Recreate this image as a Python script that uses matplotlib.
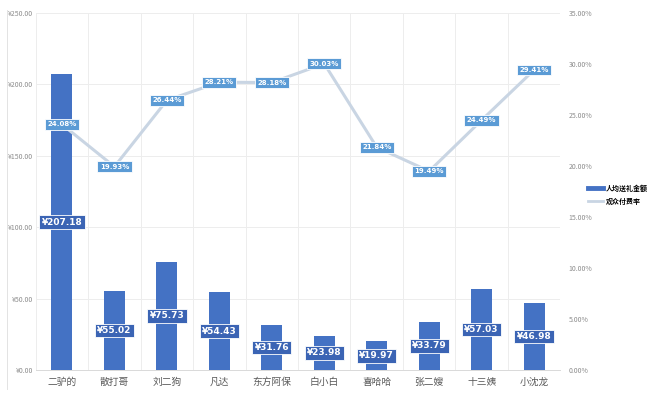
import matplotlib
matplotlib.use("Agg")
import matplotlib.pyplot as plt
from matplotlib.lines import Line2D
from matplotlib.ticker import FuncFormatter

plt.rcParams['font.family'] = ['Noto Sans CJK SC', 'DejaVu Sans']

names = ['二驴的', '散打哥', '刘二狗', '凡达', '东方阿保', '白小白', '喜哈哈', '张二嫂', '十三姨', '小沈龙']
gift = [207.18, 55.02, 75.73, 54.43, 31.76, 23.98, 19.97, 33.79, 57.03, 46.98]
pay_rate = [24.08, 19.93, 26.44, 28.21, 28.18, 30.03, 21.84, 19.49, 24.49, 29.41]

bar_col = '#4472C4'
line_col = '#C9D5E3'
grid_col = '#EDEDED'
tick_col = '#8C8C8C'

fig = plt.figure(figsize=(6.5, 3.93), dpi=100)
ax = fig.add_axes([0.055, 0.0585, 0.807, 0.9085])
ax2 = ax.twinx()

x = range(len(names))
ax.bar(x, gift, width=0.4, color=bar_col, zorder=2)
for i, v in enumerate(gift):
    ax.text(i, v / 2, '¥{:.2f}'.format(v), ha='center', va='center', color='white',
            fontsize=6.5, fontweight='bold', family=['DejaVu Sans'], zorder=5,
            bbox=dict(boxstyle='square,pad=0.25', fc='#3B64B4', ec='white', lw=0.6))

ax.set_xlim(-0.5, len(names) - 0.5)
ax.set_ylim(0, 250)
ax.set_yticks(range(0, 251, 50))
ax.yaxis.set_major_formatter(FuncFormatter(lambda v, p: '¥{:.2f}'.format(v)))
ax.set_xticks(list(x))
ax.set_xticklabels(names, fontsize=7, color='#595959')
ax.tick_params(axis='y', labelsize=5, colors=tick_col, length=0, pad=2)
ax.tick_params(axis='x', length=0, pad=5)
ax.set_xticks([i + 0.5 for i in range(-1, len(names))], minor=True)
ax.tick_params(axis='x', which='minor', length=0)
ax.grid(True, axis='y', color=grid_col, lw=0.7, zorder=0)
ax.grid(True, axis='x', which='minor', color=grid_col, lw=0.7, zorder=0)
for s in ['top', 'left', 'right']:
    ax.spines[s].set_visible(False)
ax.spines['bottom'].set_color('#D9D9D9')
ax.spines['bottom'].set_linewidth(0.7)

ax2.plot(list(x), pay_rate, color=line_col, lw=2.2, zorder=3)
for i, v in enumerate(pay_rate):
    ax2.text(i, v, '{:.2f}%'.format(v), ha='center', va='center', color='white',
             fontsize=5, fontweight='bold', family=['DejaVu Sans'], zorder=5,
             bbox=dict(boxstyle='square,pad=0.35', fc='#5B9BD5', ec='white', lw=0.6))
ax2.set_ylim(0, 35)
ax2.set_yticks(range(0, 36, 5))
ax2.yaxis.set_major_formatter(FuncFormatter(lambda v, p: '{:.2f}%'.format(v)))
ax2.tick_params(axis='y', labelsize=5, colors=tick_col, length=0, pad=6)
for s in ['top', 'left', 'right', 'bottom']:
    ax2.spines[s].set_visible(False)

fig.add_artist(Line2D([0.011, 0.011], [0.01, 0.975], color='#E3E3E3', lw=0.7))

handles = [Line2D([0], [0], color=bar_col, lw=3.5),
           Line2D([0], [0], color=line_col, lw=2)]
fig.legend(handles, ['人均送礼金额', '观众付费率'], loc='center left',
           bbox_to_anchor=(0.895, 0.505), frameon=False,
           handlelength=2.2, handletextpad=0.4, labelspacing=0.9,
           prop={'weight': 'bold', 'size': 5})

fig.savefig('out.png', dpi=100, facecolor='white')
